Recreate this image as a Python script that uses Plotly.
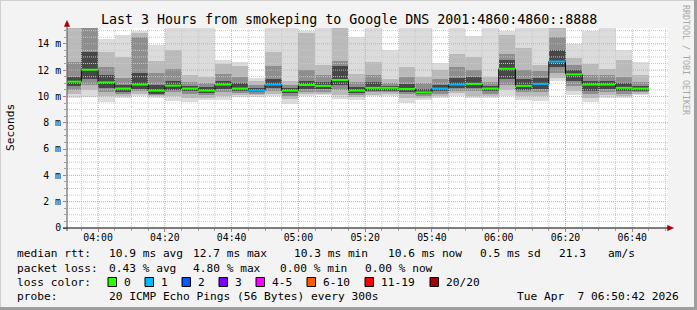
import plotly.graph_objects as go
import pandas as pd

# ---------------- data ----------------
window_start = pd.Timestamp("2026-04-07 03:50:42")
window_end = pd.Timestamp("2026-04-07 06:50:42")
interval_end = pd.date_range("2026-04-07 03:55", "2026-04-07 06:45", freq="5min")

ping_max = [15.3, 15.3, 14.4, 14.7, 15.0, 13.9, 15.3, 15.3, 15.3, 12.8, 12.65, 11.4, 15.3, 15.3, 15.0, 15.3, 15.3, 14.5,
            15.3, 13.5, 15.3, 15.3, 12.55, 15.3, 14.6, 15.3, 15.0, 15.3, 15.3, 15.3, 14.0, 15.0, 15.3, 13.55, 12.65]
ping_hi2 = [15.3, 15.3, 13.4, 13.0, 14.8, 12.7, 13.5, 11.6, 11.5, 12.5, 12.3, 11.2, 13.4, 11.2, 14.8, 12.4, 15.2, 11.7,
            12.6, 11.3, 12.2, 11.5, 12.0, 13.2, 13.0, 11.5, 14.7, 13.7, 12.4, 15.3, 12.9, 12.5, 12.1, 12.8, 11.6]
ping_hi3 = [12.6, 15.3, 12.2, 11.4, 14.5, 11.8, 12.1, 11.1, 11.0, 11.7, 11.5, 10.9, 12.3, 10.85, 12.0, 11.6, 12.7, 11.1,
            11.6, 11.0, 11.5, 11.0, 11.3, 12.2, 12.0, 11.1, 13.2, 12.0, 11.9, 14.5, 12.4, 11.6, 11.6, 11.5, 11.1]
ping_hi4 = [11.5, 13.4, 11.6, 10.9, 11.8, 10.9, 11.2, 10.8, 10.7, 11.2, 11.0, 10.65, 11.3, 10.65, 11.2, 11.1, 12.3, 10.75,
            11.1, 10.8, 10.95, 10.6, 10.85, 11.4, 11.5, 10.8, 12.8, 11.3, 11.4, 13.5, 12.0, 11.2, 11.2, 11.0, 10.8]
median_rtt = [11.12, 12.03, 11.07, 10.6, 10.9, 10.44, 10.82, 10.6, 10.44, 10.9, 10.6, 10.44, 10.9, 10.44, 10.87, 10.8,
              11.25, 10.44, 10.65, 10.65, 10.57, 10.3, 10.6, 10.9, 10.95, 10.6, 12.1, 10.8, 10.95, 12.65, 11.68, 10.9,
              10.9, 10.65, 10.6]
ping_lo4 = [10.8, 11.3, 10.65, 10.35, 10.6, 10.2, 10.5, 10.4, 10.25, 10.6, 10.4, 10.3, 10.65, 10.25, 10.6, 10.55, 10.85,
            10.25, 10.45, 10.45, 10.35, 10.15, 10.4, 10.65, 10.65, 10.4, 11.3, 10.5, 10.6, 12.2, 11.2, 10.45, 10.6, 10.4, 10.4]
ping_lo3 = [10.5, 10.9, 10.35, 10.15, 10.4, 10.1, 10.3, 10.2, 10.1, 10.35, 10.25, 10.2, 10.4, 10.0, 10.35, 10.35, 10.5,
            10.1, 10.3, 10.3, 10.15, 10.05, 10.2, 10.45, 10.4, 10.2, 10.9, 10.3, 10.35, 11.8, 10.8, 10.2, 10.35, 10.2, 10.3]
ping_lo2 = [10.2, 10.5, 10.0, 10.0, 10.2, 10.0, 10.0, 9.9, 9.9, 10.0, 10.1, 10.1, 10.2, 9.8, 10.2, 10.2, 10.1, 9.95,
            10.1, 10.15, 9.9, 9.9, 10.0, 10.25, 10.0, 10.0, 10.5, 10.0, 10.0, 11.4, 10.4, 9.9, 10.1, 10.0, 10.2]
ping_min = [9.85, 9.95, 9.6, 9.85, 10.0, 9.9, 9.65, 9.55, 9.7, 9.75, 9.95, 9.95, 10.05, 9.45, 10.0, 10.1, 9.8, 9.7,
            10.0, 10.0, 9.5, 9.75, 9.85, 10.05, 9.9, 9.85, 10.0, 9.75, 9.65, 11.15, 10.1, 9.6, 9.9, 9.88, 10.1]
loss_count = [0, 0, 0, 0, 0, 0, 0, 0, 0, 0, 0, 1, 1, 0, 0, 0, 0, 0, 0, 0, 0, 0, 1, 1, 0, 0, 0, 0, 1, 1, 0, 0, 0, 0, 0]

loss_labels = ["0", "1", "2", "3", "4-5", "6-10", "11-19", "20/20"]
loss_colors = ["#26ff00", "#00b8ff", "#0059ff", "#7e00ff", "#ff00ff", "#ff5a00", "#ff0000", "#a10000"]

y_tick_vals = [0, 2, 4, 6, 8, 10, 12, 14]
y_tick_text = ["0", "2 m", "4 m", "6 m", "8 m", "10 m", "12 m", "14 m"]

legend_lines = [
    ("median rtt:", [(107.6, "10.9 ms avg"), (192, "12.7 ms max"), (293.3, "10.3 ms min"),
                     (386.7, "10.6 ms now"), (479, "0.5 ms sd"), (557.8, "21.3"), (607, "am/s")]),
    ("packet loss:", [(107.6, "0.43 % avg"), (192, "4.80 % max"), (279, "0.00 % min"), (364.4, "0.00 % now")]),
]
probe_text = "20 ICMP Echo Pings (56 Bytes) every 300s"
stamp_text = "Tue Apr  7 06:50:42 2026"
title_text = "Last 3 Hours from smokeping to Google DNS 2001:4860:4860::8888"

# ---------------- geometry ----------------
W, H = 697, 310
L, R, T, B = 67, 668, 28, 228
Y_TOP = 15.2
MONO = "DejaVu Sans Mono"


def px(x):
    return (x - L) / (R - L)


def py(y):
    return (B - y) / (B - T)


bar_start = [max(t - pd.Timedelta(minutes=5), window_start) for t in interval_end]
bar_center = [s + (e - s) / 2 for s, e in zip(bar_start, interval_end)]
bar_width = [(e - s).total_seconds() * 1000 for s, e in zip(bar_start, interval_end)]

fig = go.Figure()

layers = [
    (ping_min, ping_max, "#dcdcdc"),
    (ping_lo2, ping_hi2, "#bababa"),
    (ping_lo3, ping_hi3, "#8e8e8e"),
    (ping_lo4, ping_hi4, "#474747"),
]
for lo, hi, col in layers:
    fig.add_trace(go.Bar(
        x=bar_center, y=[h - l for l, h in zip(lo, hi)], base=lo, width=bar_width,
        marker=dict(color=col, line=dict(width=0)), hoverinfo="skip", showlegend=False))

# grid (drawn above the smoke, like rrdtool)
def hgrid(values, color):
    xs, ys = [], []
    for v in values:
        xs += [window_start, window_end, None]
        ys += [v, v, None]
    fig.add_trace(go.Scatter(x=xs, y=ys, mode="lines", hoverinfo="skip", showlegend=False,
                             line=dict(color=color, width=1, dash="1px,1px")))


def vgrid(times, color):
    xs, ys = [], []
    for t in times:
        xs += [t, t, None]
        ys += [0, Y_TOP, None]
    fig.add_trace(go.Scatter(x=xs, y=ys, mode="lines", hoverinfo="skip", showlegend=False,
                             line=dict(color=color, width=1, dash="1px,1px")))


minor_y = [k * 0.5 for k in range(1, 31) if k % 4 != 0]
major_y = [k * 0.5 for k in range(4, 31, 4)]
grid_times = pd.date_range("2026-04-07 03:55", "2026-04-07 06:50", freq="5min")
minor_t = [t for t in grid_times if t.minute % 20 != 0]
major_t = [t for t in grid_times if t.minute % 20 == 0]
hgrid(minor_y, "#c8c8c8")
vgrid(minor_t, "#c8c8c8")
hgrid(major_y, "#eb9a9a")
vgrid(major_t, "#eb9a9a")

# median line (black step) then loss-coloured median segments
fig.add_trace(go.Scatter(x=bar_start + [interval_end[-1]], y=median_rtt + [median_rtt[-1]],
                         mode="lines", line=dict(color="#000000", width=1, shape="hv"),
                         hoverinfo="skip", showlegend=False))
for lc in sorted(set(loss_count)):
    xs, ys = [], []
    for s, e, m, c in zip(bar_start, interval_end, median_rtt, loss_count):
        if c == lc:
            xs += [s, e, None]
            ys += [m, m, None]
    fig.add_trace(go.Scatter(x=xs, y=ys, mode="lines", line=dict(color=loss_colors[lc], width=2),
                             hoverinfo="skip", showlegend=False))

shapes = []
# frame
shapes.append(dict(type="line", xref="paper", yref="paper", x0=px(0), x1=px(W), y0=py(0.5), y1=py(0.5),
                   line=dict(color="#cfcfcf", width=1)))
shapes.append(dict(type="line", xref="paper", yref="paper", x0=px(0.5), x1=px(0.5), y0=py(0), y1=py(H),
                   line=dict(color="#cfcfcf", width=1)))
shapes.append(dict(type="line", xref="paper", yref="paper", x0=px(W - 1.5), x1=px(W - 1.5), y0=py(0), y1=py(H),
                   line=dict(color="#9e9e9e", width=3)))
shapes.append(dict(type="line", xref="paper", yref="paper", x0=px(0), x1=px(W), y0=py(H - 1.5), y1=py(H - 1.5),
                   line=dict(color="#9e9e9e", width=3)))
# axes with arrows
shapes.append(dict(type="line", xref="paper", yref="paper", x0=px(67), x1=px(67), y0=py(231), y1=py(25),
                   line=dict(color="#505050", width=1)))
shapes.append(dict(type="line", xref="paper", yref="paper", x0=px(63), x1=px(669), y0=py(228), y1=py(228),
                   line=dict(color="#000000", width=1)))


def tri(points):
    d = "M " + " L ".join(f"{px(a)},{py(b)}" for a, b in points) + " Z"
    return dict(type="path", xref="paper", yref="paper", path=d, fillcolor="#a80000",
                line=dict(color="#a80000", width=0.5))


shapes.append(tri([(67, 20.5), (64.3, 26.5), (69.7, 26.5)]))
shapes.append(tri([(673.5, 228), (667.5, 225.3), (667.5, 230.7)]))

annotations = []


def ann(text, x, y, size=11.2, xanchor="left", color="#000000", angle=0):
    annotations.append(dict(text=text, x=px(x), y=py(y), xref="paper", yref="paper", showarrow=False,
                            xanchor=xanchor, yanchor="middle", textangle=angle,
                            font=dict(family=MONO, size=size, color=color)))


ann(title_text, 348.5, 20, size=13.3, xanchor="center")
ann("Seconds", 10, 128, size=11.2, xanchor="center", angle=-90)
ann("RRDTOOL / TOBI OETIKER", 686, 60, size=8.3, xanchor="center", color="#a8a8a8", angle=90)

line_y = [254, 268, 282, 296]
for (label, items), yy in zip(legend_lines, line_y):
    ann(label, 15, yy)
    for x, t in items:
        ann(t, x - 1, yy)

ann("loss color:", 15, line_y[2])
sw_x = [108, 145, 182, 219, 256, 307, 365, 430]
for sx, lab, col in zip(sw_x, loss_labels, loss_colors):
    shapes.append(dict(type="rect", xref="paper", yref="paper", x0=px(sx), x1=px(sx + 8.5),
                       y0=py(286.5), y1=py(277.5), fillcolor=col, line=dict(color="#000000", width=1)))
    ann(lab, sx + 14, line_y[2])

ann("probe:", 15, line_y[3])
ann(probe_text, 106.6, line_y[3])
ann(stamp_text, 681, line_y[3], xanchor="right")

fig.update_layout(
    width=W, height=H,
    margin=dict(l=L, r=W - R, t=T, b=H - B, pad=0),
    paper_bgcolor="#f3f3f3", plot_bgcolor="#ffffff",
    barmode="overlay", bargap=0,
    showlegend=False,
    shapes=shapes, annotations=annotations,
    xaxis=dict(type="date", range=[window_start, window_end], showgrid=False, zeroline=False,
               showline=False, tickvals=major_t, tickformat="%H:%M", ticks="outside", ticklen=3,
               ticklabelstandoff=-3,
               tickcolor="#d07070", tickfont=dict(family=MONO, size=9.8, color="#000000"),
               minor=dict(tickvals=minor_t, ticks="outside", ticklen=2, tickcolor="#a0a0a0"),
               fixedrange=True),
    yaxis=dict(range=[0, Y_TOP], showgrid=False, zeroline=False, showline=False,
               tickvals=y_tick_vals, ticktext=y_tick_text, ticks="outside", ticklen=3,
               tickcolor="#d07070", tickfont=dict(family=MONO, size=9.8, color="#000000"),
               minor=dict(tickvals=minor_y, ticks="outside", ticklen=2, tickcolor="#a0a0a0"),
               fixedrange=True),
)

fig.write_html("out.html")
